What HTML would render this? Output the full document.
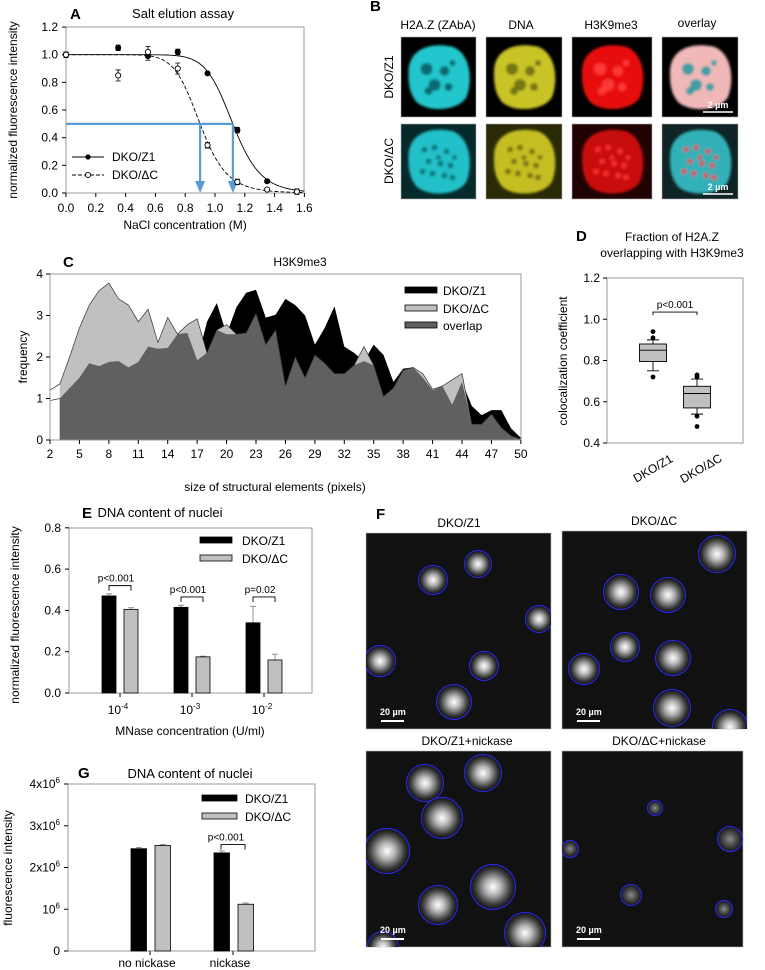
<!DOCTYPE html>
<html><head><meta charset="utf-8">
<style>
html,body{margin:0;padding:0;background:#fff;}
svg{display:block;font-family:"Liberation Sans",Arial,sans-serif;}
</style></head>
<body>
<svg id="fig" width="765" height="970" viewBox="0 0 765 970" xmlns="http://www.w3.org/2000/svg">
<defs>
  <filter id="blur2" x="-30%" y="-30%" width="160%" height="160%"><feGaussianBlur stdDeviation="2"/></filter>
  <filter id="blur1" x="-30%" y="-30%" width="160%" height="160%"><feGaussianBlur stdDeviation="1.2"/></filter>
  <radialGradient id="nuc" cx="50%" cy="50%" r="50%">
    <stop offset="0" stop-color="#ffffff"/>
    <stop offset="0.35" stop-color="#b8b8b8"/>
    <stop offset="0.8" stop-color="#3a3a3a"/>
    <stop offset="1" stop-color="#141414"/>
  </radialGradient>
  <radialGradient id="nucdim" cx="50%" cy="50%" r="50%">
    <stop offset="0" stop-color="#8a8a8a"/>
    <stop offset="0.6" stop-color="#444"/>
    <stop offset="1" stop-color="#1a1a1a"/>
  </radialGradient>
</defs>

<!-- ================= Panel A ================= -->
<g id="panelA">
  <text x="70" y="19" font-size="15" font-weight="bold">A</text>
  <text x="183" y="18" font-size="13" text-anchor="middle">Salt elution assay</text>
  <text transform="translate(17,110) rotate(-90)" font-size="12" text-anchor="middle">normalized fluorescence intensity</text>
  <text x="185" y="229" font-size="12" text-anchor="middle">NaCl concentration (M)</text>
  <rect x="66" y="27" width="238" height="166" fill="none" stroke="#999" stroke-width="1"/>
  <g id="aAxes"></g>
  <g id="aMarks"></g>
  <g>
    <line x1="72" y1="157" x2="104" y2="157" stroke="#000" stroke-width="1"/>
    <circle cx="88" cy="157" r="2.6" fill="#000"/>
    <text x="112" y="161" font-size="12">DKO/Z1</text>
    <line x1="72" y1="175" x2="104" y2="175" stroke="#000" stroke-width="1" stroke-dasharray="4,2"/>
    <circle cx="88" cy="175" r="2.6" fill="#fff" stroke="#000" stroke-width="0.9"/>
    <text x="112" y="179" font-size="12">DKO/ΔC</text>
  </g>
</g>

<!-- ================= Panel B ================= -->
<g id="panelB">
  <text x="370" y="11" font-size="15" font-weight="bold">B</text>
  <text x="438" y="29" font-size="12" text-anchor="middle">H2A.Z (ZAbA)</text>
  <text x="521" y="29" font-size="12" text-anchor="middle">DNA</text>
  <text x="611" y="29" font-size="12" text-anchor="middle">H3K9me3</text>
  <text x="697" y="27" font-size="12" text-anchor="middle">overlay</text>
  <text transform="translate(393,77) rotate(-90)" font-size="12" text-anchor="middle">DKO/Z1</text>
  <text transform="translate(393,161) rotate(-90)" font-size="12" text-anchor="middle">DKO/ΔC</text>
  <g id="bImgs"></g>
</g>

<!-- ================= Panel C ================= -->
<g id="panelC">
  <text x="63" y="267" font-size="15" font-weight="bold">C</text>
  <text x="300" y="266" font-size="12" text-anchor="middle">H3K9me3</text>
  <text transform="translate(27,357) rotate(-90)" font-size="12" text-anchor="middle">frequency</text>
  <text x="275" y="491" font-size="12" text-anchor="middle">size of structural elements (pixels)</text>
  <g id="cMarks"></g>
  <rect x="50" y="274" width="471" height="166" fill="none" stroke="#999" stroke-width="1"/>
  <g id="cAxes"></g>
  <g>
    <rect x="405" y="287" width="32" height="6" fill="#000" stroke="#000" stroke-width="0.8"/>
    <text x="443" y="295" font-size="12">DKO/Z1</text>
    <rect x="405" y="305" width="32" height="6" fill="#c0c0c0" stroke="#000" stroke-width="0.8"/>
    <text x="443" y="313" font-size="12">DKO/ΔC</text>
    <rect x="405" y="322" width="32" height="6" fill="#606060" stroke="#000" stroke-width="0.8"/>
    <text x="443" y="330" font-size="12">overlap</text>
  </g>
</g>

<!-- ================= Panel D ================= -->
<g id="panelD">
  <text x="576" y="241" font-size="15" font-weight="bold">D</text>
  <text x="672" y="241" font-size="12" text-anchor="middle">Fraction of H2A.Z</text>
  <text x="672" y="257" font-size="12" text-anchor="middle">overlapping with H3K9me3</text>
  <text transform="translate(567,361) rotate(-90)" font-size="12" text-anchor="middle">colocalization coefficient</text>
  <rect x="607" y="278" width="136" height="165" fill="none" stroke="#999" stroke-width="1"/>
  <g id="dAxes"></g>
  <g id="dMarks"></g>
  <text transform="translate(655,472) rotate(-30)" font-size="12" text-anchor="middle">DKO/Z1</text>
  <text transform="translate(703,472) rotate(-30)" font-size="12" text-anchor="middle">DKO/ΔC</text>
</g>

<!-- ================= Panel E ================= -->
<g id="panelE">
  <text x="82" y="518" font-size="15" font-weight="bold">E</text>
  <text x="160" y="517" font-size="13" text-anchor="middle">DNA content of nuclei</text>
  <text transform="translate(19,615) rotate(-90)" font-size="12" text-anchor="middle">normalized fluorescence intensity</text>
  <text x="190" y="735" font-size="12" text-anchor="middle">MNase concentration (U/ml)</text>
  <rect x="69" y="528" width="243" height="165" fill="none" stroke="#999" stroke-width="1"/>
  <g id="eAxes"></g>
  <g id="eMarks"></g>
  <g>
    <rect x="200" y="537" width="32" height="6" fill="#000" stroke="#000" stroke-width="0.8"/>
    <text x="242" y="545" font-size="12">DKO/Z1</text>
    <rect x="200" y="555" width="32" height="6" fill="#c0c0c0" stroke="#000" stroke-width="0.8"/>
    <text x="242" y="563" font-size="12">DKO/ΔC</text>
  </g>
</g>

<!-- ================= Panel F ================= -->
<g id="panelF">
  <text x="376" y="519" font-size="15" font-weight="bold">F</text>
  <text x="459" y="527" font-size="12" text-anchor="middle">DKO/Z1</text>
  <text x="654" y="525" font-size="12" text-anchor="middle">DKO/ΔC</text>
  <text x="467" y="745" font-size="12" text-anchor="middle">DKO/Z1+nickase</text>
  <text x="659" y="745" font-size="12" text-anchor="middle">DKO/ΔC+nickase</text>
  <g id="fImgs"></g>
</g>

<!-- ================= Panel G ================= -->
<g id="panelG">
  <text x="78" y="778" font-size="15" font-weight="bold">G</text>
  <text x="190" y="778" font-size="13" text-anchor="middle">DNA content of nuclei</text>
  <text transform="translate(12,868) rotate(-90)" font-size="12" text-anchor="middle">fluorescence intensity</text>
  <rect x="68" y="784" width="247" height="167" fill="none" stroke="#999" stroke-width="1"/>
  <g id="gAxes"></g>
  <g id="gMarks"></g>
  <g>
    <rect x="202" y="795" width="35" height="6" fill="#000" stroke="#000" stroke-width="0.8"/>
    <text x="245" y="803" font-size="12">DKO/Z1</text>
    <rect x="202" y="813" width="35" height="6" fill="#c0c0c0" stroke="#000" stroke-width="0.8"/>
    <text x="245" y="821" font-size="12">DKO/ΔC</text>
  </g>
</g>
</svg>

<script>
// ---------- Panel A data ----------
const aNaCl = [0, 0.35, 0.55, 0.75, 0.95, 1.15, 1.35, 1.55];
const aZ1 = [1.0, 1.05, 0.99, 1.02, 0.865, 0.455, 0.085, 0.01];
const aZ1Err = [0.02, 0.02, 0.03, 0.02, 0.01, 0.02, 0.01, 0.01];
const aDC = [1.0, 0.85, 1.02, 0.9, 0.345, 0.08, 0.025, 0.01];
const aDCErr = [0.02, 0.04, 0.04, 0.04, 0.02, 0.02, 0.01, 0.02];
const aFitZ1 = [1.12, 12];   // half-point, Hill slope
const aFitDC = [0.9, 10];
const aHalf = [0.9, 1.12];
const aXTicks = [0, 0.2, 0.4, 0.6, 0.8, 1.0, 1.2, 1.4, 1.6];
const aYTicks = [0, 0.2, 0.4, 0.6, 0.8, 1.0, 1.2];

// ---------- Panel C data ----------
const cSize = [2,3,4,5,6,7,8,9,10,11,12,13,14,15,16,17,18,19,20,21,22,23,24,25,26,27,28,29,30,31,32,33,34,35,36,37,38,39,40,41,42,43,44,45,46,47,48,49,50];
const cDC = [1.2,1.35,2.0,2.7,3.25,3.6,3.78,3.4,3.25,2.85,3.15,2.35,2.95,2.55,2.78,2.92,2.1,2.65,2.78,2.55,2.58,3.05,2.3,2.65,1.3,2.0,1.5,2.05,1.85,1.6,1.6,1.8,2.25,1.8,1.05,1.25,1.68,1.75,1.6,1.22,1.3,1.45,1.6,0.38,0.38,0.62,0.3,0.1,0.02];
const cZ1 = [0.95,1.0,1.25,1.5,1.85,1.78,1.88,1.9,1.75,1.88,2.25,2.2,2.22,2.55,2.58,1.92,2.85,3.3,2.55,3.2,3.55,3.62,2.95,3.02,3.4,3.25,3.0,2.3,2.7,3.22,2.25,2.1,1.9,2.3,2.05,1.4,1.72,1.75,1.5,1.2,1.3,0.85,1.4,0.82,0.6,0.72,0.72,0.28,0.05];
const cXTicks = [2,5,8,11,14,17,20,23,26,29,32,35,38,41,44,47,50];
const cYTicks = [0,1,2,3,4];

// ---------- Panel D data ----------
const dGroups = ["DKO/Z1", "DKO/ΔC"];
const dQ1 = [0.795, 0.57];
const dMed = [0.85, 0.64];
const dQ3 = [0.88, 0.675];
const dWLo = [0.75, 0.54];
const dWHi = [0.90, 0.71];
const dOutZ1 = [0.72, 0.91, 0.94];
const dOutDC = [0.48, 0.53, 0.72, 0.73];
const dYTicks = [0.4, 0.6, 0.8, 1.0, 1.2];

// ---------- Panel E data ----------
const eExp = ["-4", "-3", "-2"];
const eZ1 = [0.47, 0.415, 0.34];
const eZ1Err = [0.01, 0.01, 0.08];
const eDC = [0.405, 0.175, 0.16];
const eDCErr = [0.008, 0.003, 0.028];
const ePLabels = ["p<0.001", "p<0.001", "p=0.02"];
const eYTicks = [0, 0.2, 0.4, 0.6, 0.8];

// ---------- Panel G data ----------
const gCats = ["no nickase", "nickase"];
const gZ1 = [2.45, 2.35];
const gZ1Err = [0.03, 0.05];
const gDC = [2.53, 1.12];
const gDCErr = [0.02, 0.03];
const gYTicks = [0, 1, 2, 3, 4];
const gYLabels = ["0", "10|6", "2x10|6", "3x10|6", "4x10|6"];

const NS = "http://www.w3.org/2000/svg";
function el(tag, attrs, parent) {
  const e = document.createElementNS(NS, tag);
  for (const k in attrs) e.setAttribute(k, attrs[k]);
  parent.appendChild(e);
  return e;
}
function txt(str, attrs, parent) {
  const t = el("text", attrs, parent);
  t.textContent = str;
  return t;
}

// ================= A =================
(function () {
  const ax = document.getElementById("aAxes"), mk = document.getElementById("aMarks");
  const sx = x => 66 + x * 149, sy = v => 193 - v * 138.3;
  aYTicks.forEach(v => {
    const l = el("line", {x1: 62, x2: 66, y1: sy(v), y2: sy(v), stroke: "#000"}, ax);
    
    
    const t = txt(v.toFixed(1), {x: 58, y: sy(v) + 4, "font-size": 12, "text-anchor": "end"}, ax);
    
    
  });
  aXTicks.forEach(v => {
    const l = el("line", {x1: sx(v), x2: sx(v), y1: 193, y2: 197, stroke: "#000"}, ax);
    
    
    const t = txt(v.toFixed(1), {x: sx(v), y: 212, "font-size": 12, "text-anchor": "middle"}, ax);
    
    
  });
  // fits
  function fitPath(p) {
    let d = "";
    for (let i = 0; i <= 160; i++) {
      const x = i / 100;
      const y = 1 / (1 + Math.pow(x / p[0], p[1]));
      d += (i ? "L" : "M") + sx(x).toFixed(1) + "," + sy(y).toFixed(1);
    }
    return d;
  }
  const f1 = el("path", {d: fitPath(aFitZ1), fill: "none", stroke: "#000", "stroke-width": 0.9}, mk);
  
  
  const f2 = el("path", {d: fitPath(aFitDC), fill: "none", stroke: "#000", "stroke-width": 0.9, "stroke-dasharray": "4,2"}, mk);
  
  
  // blue guides
  const hz = el("line", {x1: sx(0), x2: sx(aHalf[1]), y1: sy(0.5), y2: sy(0.5), stroke: "#5b9bd5", "stroke-width": 2.2}, mk);
  
  
  aHalf.forEach(h => {
    const v = el("line", {x1: sx(h), x2: sx(h), y1: sy(0.5), y2: 183, stroke: "#5b9bd5", "stroke-width": 2.2}, mk);
    
    
    const a = el("polygon", {points: `${sx(h) - 5},181 ${sx(h) + 5},181 ${sx(h)},193`, fill: "#5b9bd5"}, mk);
    
    
  });
  // points
  aNaCl.forEach((x, i) => {
    [[aZ1[i], aZ1Err[i], "#000", "z1"], [aDC[i], aDCErr[i], "#fff", "dc"]].forEach(s => {
      const e = el("path", {d: `M${sx(x)},${sy(s[0] - s[1])}V${sy(s[0] + s[1])}M${sx(x) - 2.5},${sy(s[0] + s[1])}h5M${sx(x) - 2.5},${sy(s[0] - s[1])}h5`, stroke: "#000", "stroke-width": 0.8, fill: "none"}, mk);
      
      
      const c = el("circle", {cx: sx(x), cy: sy(s[0]), r: 2.6, fill: s[2], stroke: "#000", "stroke-width": 0.9}, mk);
      
      
    });
  });
})();

// ================= B images =================
(function () {
  const g = document.getElementById("bImgs");
  const cols = [[401, 75], [486, 76], [572, 80], [662, 76]];
  const rows = [[37, 80], [124, 75]];
  const bgs = [["#000", "#000", "#000", "#000"], ["#062a2c", "#2a2a06", "#200202", "#0f2424"]];
  const fg = [["#22c6cc", "#c8c428", "#e81010", "#f0b8b8"], ["#22c0c8", "#c4be22", "#c80808", "#30b0b8"]];
  const spot = [["#0a5a60", "#6a6a10", "#ff4040", "#209aa0"], ["#0c6c70", "#706a10", "#ff3030", "#e05050"]];
  const spotsZ1 = [[-12, -8, 6], [6, -6, 5], [-4, 8, 6], [10, 10, 4], [-10, 14, 4], [14, -14, 3]];
  const spotsDC = [[-14, -12, 3], [-4, -14, 3], [8, -10, 3], [-10, 0, 3], [2, 2, 3], [12, 4, 3], [-6, 12, 3], [6, 14, 3], [14, 16, 3], [-16, 10, 3], [0, -4, 2.5], [16, -4, 2.5]];
  rows.forEach((r, ri) => cols.forEach((c, ci) => {
    const bg = el("rect", {x: c[0], y: r[0], width: c[1], height: r[1], fill: bgs[ri][ci], stroke: "#aaa", "stroke-width": 0.6}, g);
    
    
    const cx = c[0] + c[1] / 2, cy = r[0] + r[1] / 2;
    const cg = el("g", {filter: "url(#blur1)"}, g);
    el("path", {d: `M${cx - 30},${cy - 5} C${cx - 30},${cy - 30} ${cx - 5},${cy - 35} ${cx + 15},${cy - 30} C${cx + 33},${cy - 22} ${cx + 34},${cy + 5} ${cx + 28},${cy + 20} C${cx + 20},${cy + 34} ${cx - 10},${cy + 36} ${cx - 22},${cy + 25} C${cx - 30},${cy + 15} ${cx - 30},${cy + 5} ${cx - 30},${cy - 5}Z`, fill: fg[ri][ci]}, cg);
    const sp = ri === 0 ? spotsZ1 : spotsDC;
    sp.forEach(s => el("circle", {cx: cx + s[0], cy: cy + s[1], r: s[2], fill: spot[ri][ci], opacity: 0.85}, cg));
    if (ci === 3) {
      const sb = el("line", {x1: c[0] + c[1] - 35, x2: c[0] + c[1] - 5, y1: r[0] + r[1] - 5, y2: r[0] + r[1] - 5, stroke: "#fff", "stroke-width": 1.5}, g);
      
      
      const st = txt("2 µm", {x: c[0] + c[1] - 20, y: r[0] + r[1] - 9, "font-size": 9, fill: "#fff", "text-anchor": "middle", "font-weight": "bold"}, g);
      
      
    }
  }));
})();

// ================= C =================
(function () {
  const ax = document.getElementById("cAxes"), mk = document.getElementById("cMarks");
  const sx = x => 50 + (x - 2) * 9.81, sy = v => 440 - v * 41.5;
  function area(vals, start) {
    let d = `M${sx(cSize[start])},${sy(0)}`;
    for (let i = start; i < cSize.length; i++) d += `L${sx(cSize[i]).toFixed(1)},${sy(vals[i]).toFixed(1)}`;
    return d + `L${sx(cSize[cSize.length - 1])},${sy(0)}Z`;
  }
  const ov = cZ1.map((v, i) => Math.min(v, cDC[i]));
  const a1 = el("path", {d: area(cZ1, 1), fill: "#000"}, mk);
  
  
  const a2 = el("path", {d: area(cDC, 1), fill: "#c0c0c0"}, mk);
  
  
  const a3 = el("path", {d: area(ov, 1), fill: "#606060"}, mk);
  
  
  const ln1 = el("polyline", {points: cSize.map((x, i) => sx(x) + "," + sy(cDC[i])).join(" "), fill: "none", stroke: "#333", "stroke-width": 0.7}, mk);
  
  
  const ln2 = el("polyline", {points: cSize.slice(0, 2).map((x, i) => sx(x) + "," + sy(cZ1[i])).join(" "), fill: "none", stroke: "#333", "stroke-width": 0.7}, mk);
  
  
  cYTicks.forEach(v => {
    const l = el("line", {x1: 46, x2: 50, y1: sy(v), y2: sy(v), stroke: "#000"}, ax);
    
    
    const t = txt(String(v), {x: 43, y: sy(v) + 4, "font-size": 12, "text-anchor": "end"}, ax);
    
    
  });
  cXTicks.forEach(v => {
    const l = el("line", {x1: sx(v), x2: sx(v), y1: 440, y2: 444, stroke: "#000"}, ax);
    
    
    const t = txt(String(v), {x: sx(v), y: 458, "font-size": 12, "text-anchor": "middle"}, ax);
    
    
  });
})();

// ================= D =================
(function () {
  const ax = document.getElementById("dAxes"), mk = document.getElementById("dMarks");
  const sy = v => 443 - (v - 0.4) * 206.25;
  const cx = [653, 697], hw = 13.5;
  dYTicks.forEach(v => {
    const l = el("line", {x1: 603, x2: 607, y1: sy(v), y2: sy(v), stroke: "#000"}, ax);
    
    
    const t = txt(v.toFixed(1), {x: 600, y: sy(v) + 4, "font-size": 12, "text-anchor": "end"}, ax);
    
    
  });
  dGroups.forEach((gname, i) => {
    const w = el("path", {d: `M${cx[i]},${sy(dWHi[i])}V${sy(dQ3[i])}M${cx[i]},${sy(dQ1[i])}V${sy(dWLo[i])}M${cx[i] - 6},${sy(dWHi[i])}h12M${cx[i] - 6},${sy(dWLo[i])}h12`, stroke: "#000", "stroke-width": 0.9, fill: "none"}, mk);
    
    
    const b = el("rect", {x: cx[i] - hw, y: sy(dQ3[i]), width: 2 * hw, height: sy(dQ1[i]) - sy(dQ3[i]), fill: "#c0c0c0", stroke: "#000", "stroke-width": 0.9}, mk);
    
    
    const m = el("line", {x1: cx[i] - hw, x2: cx[i] + hw, y1: sy(dMed[i]), y2: sy(dMed[i]), stroke: "#000", "stroke-width": 0.9}, mk);
    
    
    (i === 0 ? dOutZ1 : dOutDC).forEach(o => {
      const c = el("circle", {cx: cx[i], cy: sy(o), r: 2.4, fill: "#000"}, mk);
      
      
    });
  });
  const br = el("path", {d: `M${cx[0]},${sy(1.02)}V${sy(1.035)}H${cx[1]}V${sy(1.02)}`, stroke: "#000", fill: "none", "stroke-width": 0.9}, mk);
  
  
  const pt = txt("p<0.001", {x: (cx[0] + cx[1]) / 2, y: sy(1.035) - 4, "font-size": 10, "text-anchor": "middle"}, mk);
  
  
})();

// ================= E =================
(function () {
  const ax = document.getElementById("eAxes"), mk = document.getElementById("eMarks");
  const sy = v => 693 - v * 206.5;
  const gx = [120, 192, 264], bw = 14;
  eYTicks.forEach(v => {
    const l = el("line", {x1: 65, x2: 69, y1: sy(v), y2: sy(v), stroke: "#000"}, ax);
    
    
    const t = txt(v === 0 ? "0.0" : v.toFixed(1), {x: 61, y: sy(v) + 4, "font-size": 12, "text-anchor": "end"}, ax);
    
    
  });
  eExp.forEach((ex, i) => {
    const l = el("line", {x1: gx[i], x2: gx[i], y1: 693, y2: 697, stroke: "#000"}, ax);
    
    
    const t = el("text", {x: gx[i] - 2, y: 714, "font-size": 12, "text-anchor": "middle"}, ax);
    
    
    t.textContent = "10";
    const sup = el("tspan", {dy: -5, "font-size": 8}, t);
    sup.textContent = ex;
  });
  eExp.forEach((ex, i) => {
    const x1 = gx[i] - 18, x2 = gx[i] + 4;
    [[x1, eZ1[i], eZ1Err[i], "#000", "z1"], [x2, eDC[i], eDCErr[i], "#c0c0c0", "dc"]].forEach(s => {
      const e = el("path", {d: `M${s[0] + bw / 2},${sy(s[1])}V${sy(s[1] + s[2])}M${s[0] + bw / 2 - 3},${sy(s[1] + s[2])}h6`, stroke: "#888", "stroke-width": 0.9}, mk);
      
      
      const b = el("rect", {x: s[0], y: sy(s[1]), width: bw, height: 693 - sy(s[1]), fill: s[3], stroke: "#000", "stroke-width": 0.8}, mk);
      
      
    });
    const top = Math.max(eZ1[i] + eZ1Err[i], eDC[i] + eDCErr[i]);
    const by = i === 0 ? sy(0.52) : sy(0.465);
    const br = el("path", {d: `M${x1 + 7},${by + 5}V${by}H${x2 + 7}V${by + 5}`, stroke: "#000", fill: "none", "stroke-width": 0.9}, mk);
    
    
    const pt = txt(ePLabels[i], {x: gx[i] - 4, y: by - 4, "font-size": 10, "text-anchor": "middle"}, mk);
    
    
  });
})();

// ================= F images =================
(function () {
  const g = document.getElementById("fImgs");
  const imgs = [
    {x: 366, y: 533, w: 185, h: 196, cells: [[67,47,14],[112,31,13],[173,86,13],[14,128,15],[118,133,14],[88,169,17]], dim: false},
    {x: 562, y: 531, w: 185, h: 198, cells: [[155,23,18],[59,61,17],[106,64,17],[63,116,14],[111,127,17],[22,138,15],[110,177,18],[168,196,17]], dim: false},
    {x: 366, y: 751, w: 185, h: 196, cells: [[59,32,18],[117,22,18],[76,67,20],[21,100,22],[127,136,22],[72,154,19],[159,182,20],[17,196,15]], dim: false},
    {x: 562, y: 751, w: 181, h: 196, cells: [[93,57,7],[168,88,12],[8,98,8],[69,144,10],[162,158,8]], dim: true}
  ];
  imgs.forEach((im, k) => {
    const cp = el("clipPath", {id: "fclip" + k}, g);
    el("rect", {x: im.x, y: im.y, width: im.w, height: im.h}, cp);
    const bg = el("rect", {x: im.x, y: im.y, width: im.w, height: im.h, fill: "#111", stroke: "#bbb", "stroke-width": 0.6}, g);
    
    
    const cg = el("g", {"clip-path": `url(#fclip${k})`}, g);
    im.cells.forEach(c => {
      const n = el("circle", {cx: im.x + c[0], cy: im.y + c[1], r: c[2], fill: im.dim ? "url(#nucdim)" : "url(#nuc)"}, cg);
      
      
      const o = el("circle", {cx: im.x + c[0], cy: im.y + c[1], r: c[2] + 0.5, fill: "none", stroke: "#2a2aff", "stroke-width": 1}, cg);
      
      
    });
    const sb = el("line", {x1: im.x + 15, x2: im.x + 38, y1: im.y + im.h - 8, y2: im.y + im.h - 8, stroke: "#fff", "stroke-width": 2}, g);
    
    
    const st = txt("20 µm", {x: im.x + 14, y: im.y + im.h - 14, "font-size": 9, fill: "#fff", "font-weight": "bold"}, g);
    
    
  });
})();

// ================= G =================
(function () {
  const ax = document.getElementById("gAxes"), mk = document.getElementById("gMarks");
  const sy = v => 951 - v * 41.75;
  const gx = [150, 233], bw = 15.5;
  gYTicks.forEach((v, i) => {
    const l = el("line", {x1: 64, x2: 68, y1: sy(v), y2: sy(v), stroke: "#000"}, ax);
    
    
    const parts = gYLabels[i].split("|");
    const t = el("text", {x: 60, y: sy(v) + 4, "font-size": 12, "text-anchor": "end"}, ax);
    
    
    t.textContent = parts[0];
    if (parts[1]) {
      const sup = el("tspan", {dy: -5, "font-size": 8}, t);
      sup.textContent = parts[1];
    }
  });
  gCats.forEach((c, i) => {
    const l = el("line", {x1: gx[i], x2: gx[i], y1: 951, y2: 955, stroke: "#000"}, ax);
    
    
    const t = txt(c, {x: gx[i] - 3, y: 967, "font-size": 12, "text-anchor": "middle"}, ax);
    
    
    const x1 = gx[i] - 19, x2 = gx[i] + 5;
    [[x1, gZ1[i], gZ1Err[i], "#000", "z1"], [x2, gDC[i], gDCErr[i], "#c0c0c0", "dc"]].forEach(s => {
      const e = el("path", {d: `M${s[0] + bw / 2},${sy(s[1])}V${sy(s[1] + s[2])}M${s[0] + bw / 2 - 3},${sy(s[1] + s[2])}h6`, stroke: "#888", "stroke-width": 0.9}, mk);
      
      
      const b = el("rect", {x: s[0], y: sy(s[1]), width: bw, height: 951 - sy(s[1]), fill: s[3], stroke: "#000", "stroke-width": 0.8}, mk);
      
      
    });
  });
  const by = sy(2.55);
  const br = el("path", {d: `M${gx[1] - 12},${by + 5}V${by}H${gx[1] + 12}V${by + 5}`, stroke: "#000", fill: "none", "stroke-width": 0.9}, mk);
  
  
  const pt = txt("p<0.001", {x: gx[1] - 7, y: by - 4, "font-size": 10, "text-anchor": "middle"}, mk);
  
  
})();
</script>
</body></html>
